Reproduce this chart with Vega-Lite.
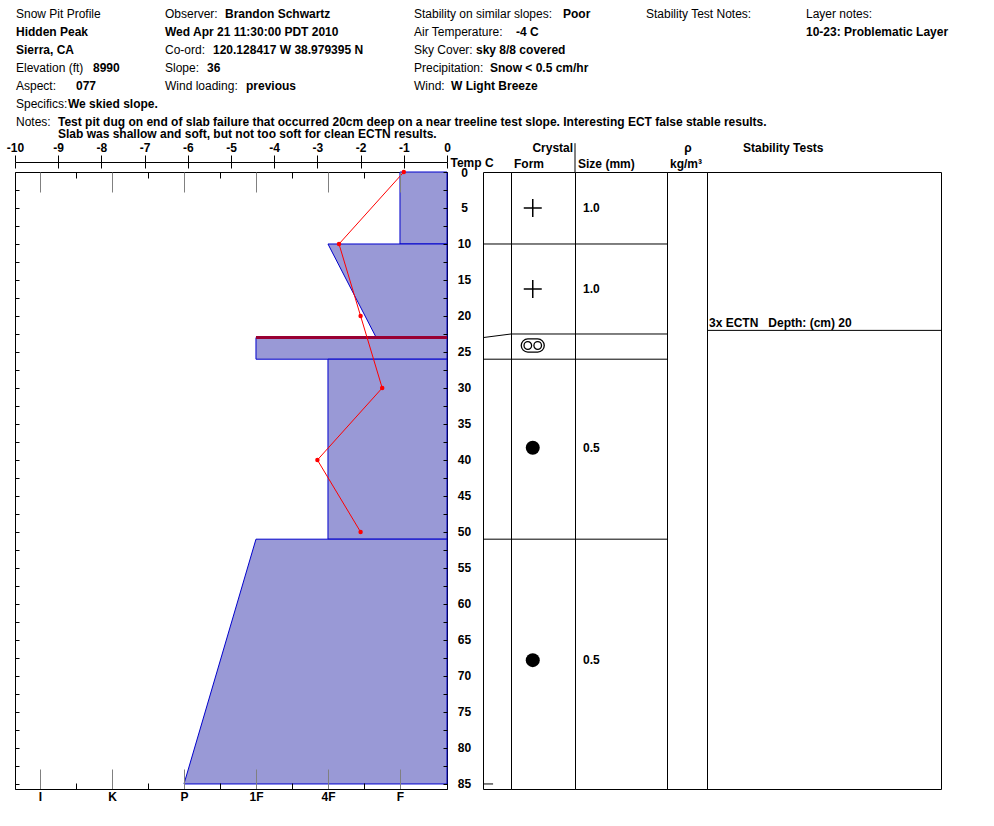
{
  "$schema": "https://vega.github.io/schema/vega-lite/v6.json",
  "padding": 0,
  "background": "white",
  "bounds": "flush",
  "spacing": 0,
  "config": {
    "font": "Liberation Sans",
    "view": {"stroke": "black", "strokeWidth": 1},
    "axis": {"grid": false, "labelFont": "Liberation Sans", "labelFontSize": 12, "labelFontWeight": "bold", "labelColor": "black", "tickColor": "black", "domainColor": "black", "titleFont": "Liberation Sans", "titleColor": "black", "labelFlush": false, "labelOverlap": false},
    "text": {"font": "Liberation Sans", "fontSize": 12, "color": "black"}
  },
  "datasets": {
    "header": [
      {"col": 1, "line": 0, "label": "Snow Pit Profile", "value": ""},
      {"col": 1, "line": 1, "label": "", "value": "Hidden Peak"},
      {"col": 1, "line": 2, "label": "", "value": "Sierra, CA"},
      {"col": 1, "line": 3, "label": "Elevation (ft)", "value": "8990"},
      {"col": 1, "line": 4, "label": "Aspect:", "value": "077"},
      {"col": 1, "line": 5, "label": "Specifics:", "value": "We skied slope."},
      {"col": 1, "line": 6, "label": "Notes:", "value": ["Test pit dug on end of slab failure that occurred 20cm deep on a near treeline test slope. Interesting ECT false stable results.", "\u00a0Slab was shallow and soft, but not too soft for clean ECTN results."]},
      {"col": 2, "line": 0, "label": "Observer:", "value": "Brandon Schwartz"},
      {"col": 2, "line": 1, "label": "", "value": "Wed Apr 21 11:30:00 PDT 2010"},
      {"col": 2, "line": 2, "label": "Co-ord:", "value": "120.128417 W 38.979395 N"},
      {"col": 2, "line": 3, "label": "Slope:", "value": "36"},
      {"col": 2, "line": 4, "label": "Wind loading:", "value": "previous"},
      {"col": 3, "line": 0, "label": "Stability on similar slopes:", "value": "Poor"},
      {"col": 3, "line": 1, "label": "Air Temperature:", "value": "-4 C"},
      {"col": 3, "line": 2, "label": "Sky Cover:", "value": "sky 8/8 covered"},
      {"col": 3, "line": 3, "label": "Precipitation:", "value": "Snow < 0.5 cm/hr"},
      {"col": 3, "line": 4, "label": "Wind:", "value": "W Light Breeze"},
      {"col": 4, "line": 0, "label": "Stability Test Notes:", "value": ""},
      {"col": 5, "line": 0, "label": "Layer notes:", "value": ""},
      {"col": 5, "line": 1, "label": "", "value": "10-23: Problematic Layer"}
    ],
    "hardness": [
      {"layer": 1, "depth": 0, "hardness": 1},
      {"layer": 1, "depth": 10, "hardness": 1},
      {"layer": 2, "depth": 10, "hardness": 2},
      {"layer": 2, "depth": 23, "hardness": 1.33},
      {"layer": 3, "depth": 23, "hardness": 3},
      {"layer": 3, "depth": 26, "hardness": 3},
      {"layer": 4, "depth": 26, "hardness": 2},
      {"layer": 4, "depth": 51, "hardness": 2},
      {"layer": 5, "depth": 51, "hardness": 3},
      {"layer": 5, "depth": 85, "hardness": 4}
    ],
    "temps": [
      {"temp": -1, "depth": 0},
      {"temp": -2.5, "depth": 10},
      {"temp": -2, "depth": 20},
      {"temp": -1.5, "depth": 30},
      {"temp": -3, "depth": 40},
      {"temp": -2, "depth": 50}
    ],
    "failure": [{"depth": 23, "hardness": 3}],
    "boundaries": [
      {"depth": 10, "row": 10},
      {"depth": 23, "row": 22.5},
      {"depth": 26, "row": 26},
      {"depth": 51, "row": 51}
    ],
    "pit": [{"depth": 85}],
    "layers": [
      {"center": 5, "form": "PP", "size": "1.0"},
      {"center": 16.25, "form": "PP", "size": "1.0"},
      {"center": 24.1, "form": "MFcl", "size": ""},
      {"center": 38.3, "form": "RG", "size": "0.5"},
      {"center": 67.8, "form": "RG", "size": "0.5"}
    ],
    "tests": [{"depth": 20, "row": 22, "label": "3x ECTN\u00a0\u00a0 Depth: (cm) 20"}],
    "one": [{}]
  },
  "vconcat": [
    {
      "width": 994,
      "height": 172,
      "view": {"stroke": null},
      "data": {"name": "header"},
      "encoding": {
        "x": {"field": "col", "type": "quantitative", "scale": {"domain": [1, 2, 3, 4, 5], "range": [16, 165, 414, 646, 806], "nice": false, "zero": false}, "axis": null},
        "y": {"field": "line", "type": "quantitative", "scale": {"domain": [0, 7], "range": [18, 144], "nice": false, "zero": false}, "axis": null}
      },
      "layer": [
        {"mark": {"type": "text", "align": "left", "baseline": "alphabetic", "fontSize": 12}, "encoding": {"text": {"field": "label"}}},
        {"mark": {"type": "text", "align": "left", "baseline": "alphabetic", "fontSize": 12, "fontWeight": "bold", "lineHeight": 12,
          "dx": {"expr": "datum.label == 'Elevation (ft)' ? 77 : datum.label == 'Aspect:' ? 60 : datum.label == 'Specifics:' ? 52 : datum.label == 'Notes:' ? 42 : datum.label == 'Observer:' ? 60 : datum.label == 'Co-ord:' ? 48 : datum.label == 'Slope:' ? 42 : datum.label == 'Wind loading:' ? 81 : datum.label == 'Stability on similar slopes:' ? 149 : datum.label == 'Air Temperature:' ? 102 : datum.label == 'Sky Cover:' ? 62 : datum.label == 'Precipitation:' ? 76 : datum.label == 'Wind:' ? 37 : 0"}},
          "encoding": {"text": {"field": "value"}}}
      ]
    },
    {
      "spacing": 0,
      "bounds": "flush",
      "hconcat": [
        {"width": 15, "height": 617, "view": {"stroke": null}, "data": {"name": "one"}, "mark": {"type": "text", "text": ""}},
        {
          "width": 432,
          "height": 617,
          "resolve": {"scale": {"x": "independent", "y": "independent"}, "axis": {"x": "independent", "y": "independent"}},
          "layer": [
            {
              "data": {"name": "hardness"},
              "mark": {"type": "area", "orient": "horizontal", "fill": "#9999d6", "stroke": "#0000cc", "strokeWidth": 1, "opacity": 1},
              "encoding": {
                "y": {"field": "depth", "type": "quantitative", "scale": {"domain": [0, 85.7], "reverse": true, "nice": false, "zero": false},
                  "axis": {"orient": "left", "values": [0,2.5,5,7.5,10,12.5,15,17.5,20,22.5,25,27.5,30,32.5,35,37.5,40,42.5,45,47.5,50,52.5,55,57.5,60,62.5,65,67.5,70,72.5,75,77.5,80,82.5,85], "labels": false, "domain": false, "tickSize": -4, "title": null}},
                "x": {"field": "hardness", "type": "quantitative", "stack": null, "scale": {"domain": [0.347, 6.347], "reverse": true, "nice": false, "zero": false},
                  "axis": {"orient": "bottom", "values": [1,1.5,2,2.5,3,3.5,4,4.5,5,5.5,6],
                    "labelExpr": "datum.value == 1 ? 'F' : datum.value == 2 ? '4F' : datum.value == 3 ? '1F' : datum.value == 4 ? 'P' : datum.value == 5 ? 'K' : datum.value == 6 ? 'I' : ''",
                    "tickSize": {"condition": {"test": "datum.value % 1 == 0", "value": -20}, "value": -6},
                    "tickColor": {"condition": {"test": "datum.value % 1 == 0", "value": "#808080"}, "value": "black"},
                    "labelPadding": 22, "title": null, "zindex": 1}},
                "x2": {"datum": 0.347},
                "detail": {"field": "layer", "type": "nominal"}
              }
            },
            {
              "data": {"name": "failure"},
              "mark": {"type": "rule", "color": "#990033", "strokeWidth": 3},
              "encoding": {
                "y": {"field": "depth", "type": "quantitative", "scale": {"domain": [0, 85.7], "reverse": true, "nice": false, "zero": false}, "axis": null},
                "x": {"field": "hardness", "type": "quantitative", "scale": {"domain": [0.347, 6.347], "reverse": true, "nice": false, "zero": false}, "axis": null},
                "x2": {"datum": 0.347}
              }
            },
            {
              "data": {"name": "hardness"},
              "mark": {"type": "point", "opacity": 0},
              "encoding": {
                "y": {"field": "depth", "type": "quantitative", "scale": {"domain": [0, 85.7], "reverse": true, "nice": false, "zero": false}, "axis": null},
                "x": {"field": "hardness", "type": "quantitative", "scale": {"domain": [0.347, 6.347], "reverse": true, "nice": false, "zero": false},
                  "axis": {"orient": "top", "values": [1,1.5,2,2.5,3,3.5,4,4.5,5,5.5,6], "labels": false, "domain": false,
                    "tickSize": {"condition": {"test": "datum.value % 1 == 0", "value": -20}, "value": -6},
                    "tickColor": {"condition": {"test": "datum.value % 1 == 0", "value": "#808080"}, "value": "black"},
                    "title": null, "zindex": 1}}
              }
            },
            {
              "data": {"name": "temps"},
              "mark": {"type": "point", "opacity": 0},
              "encoding": {
                "y": {"field": "depth", "type": "quantitative", "scale": {"domain": [0, 85.7], "reverse": true, "nice": false, "zero": false}, "axis": null},
                "x": {"field": "temp", "type": "quantitative", "scale": {"domain": [-10, 0], "nice": false, "zero": false},
                  "axis": {"orient": "top", "offset": 10, "values": [-10,-9,-8,-7,-6,-5,-4,-3,-2,-1,0], "labels": false, "domain": false, "tickSize": -6, "title": null}}
              }
            },
            {
              "data": {"name": "temps"},
              "mark": {"type": "line", "color": "#ff0000", "strokeWidth": 1, "point": {"filled": true, "size": 20, "color": "#ff0000"}},
              "encoding": {
                "x": {"field": "temp", "type": "quantitative", "scale": {"domain": [-10, 0], "nice": false, "zero": false},
                  "axis": {"orient": "top", "offset": 10, "values": [-10,-9,-8,-7,-6,-5,-4,-3,-2,-1,0], "tickSize": 7, "labelPadding": 1,
                    "labelExpr": "datum.value < 0 ? '-' + (-datum.value) : '' + datum.value",
                    "title": "Temp C", "titleX": 435, "titleY": 0, "titleAlign": "left", "titleBaseline": "middle", "titleAngle": 0, "titleFontSize": 12, "titleFontWeight": "bold", "titlePadding": 0}},
                "y": {"field": "depth", "type": "quantitative", "scale": {"domain": [0, 85.7], "reverse": true, "nice": false, "zero": false},
                  "axis": {"orient": "right", "values": [0,2.5,5,7.5,10,12.5,15,17.5,20,22.5,25,27.5,30,32.5,35,37.5,40,42.5,45,47.5,50,52.5,55,57.5,60,62.5,65,67.5,70,72.5,75,77.5,80,82.5,85],
                    "tickSize": -4, "domain": false, "format": "d", "labelExpr": "datum.value % 5 == 0 ? datum.label : ''", "labelAlign": "center", "labelBaseline": "middle", "labelPadding": 21, "title": null, "zindex": 1}},
                "order": {"field": "depth", "type": "quantitative"}
              }
            }
          ]
        },
        {"width": 36, "height": 617, "view": {"stroke": null}, "data": {"name": "one"}, "mark": {"type": "text", "text": ""}},
        {
          "width": 28,
          "height": 617,
          "layer": [
            {
              "data": {"name": "boundaries"},
              "mark": {"type": "rule", "color": "black", "strokeWidth": 1},
              "encoding": {
                "x": {"datum": 0, "type": "quantitative", "scale": {"domain": [0, 1], "nice": false, "zero": false}, "axis": null},
                "x2": {"datum": 1},
                "y": {"field": "depth", "type": "quantitative", "scale": {"domain": [0, 85.7], "reverse": true, "nice": false, "zero": false}, "axis": null},
                "y2": {"field": "row"}
              }
            },
            {
              "data": {"name": "pit"},
              "mark": {"type": "rule", "color": "black", "strokeWidth": 1},
              "encoding": {
                "x": {"datum": 0, "type": "quantitative", "axis": null},
                "x2": {"datum": 0.36},
                "y": {"field": "depth", "type": "quantitative", "axis": null}
              }
            }
          ]
        },
        {
          "width": 64,
          "height": 617,
          "layer": [
            {
              "data": {"name": "boundaries"},
              "mark": {"type": "rule", "color": "black", "strokeWidth": 1},
              "encoding": {
                "y": {"field": "row", "type": "quantitative", "scale": {"domain": [0, 85.7], "reverse": true, "nice": false, "zero": false},
                  "axis": {"orient": "left", "values": [0,2.5,5,7.5,10,12.5,15,17.5,20,22.5,25,27.5,30,32.5,35,37.5,40,42.5,45,47.5,50,52.5,55,57.5,60,62.5,65,67.5,70,72.5,75,77.5,80,82.5,85], "labels": false, "domain": false, "tickSize": -6, "title": null}}
              }
            },
            {
              "data": {"name": "layers"},
              "transform": [{"filter": "datum.form == 'PP'"}],
              "mark": {"type": "point", "shape": "M-1,0L1,0M0,-1L0,1", "filled": false, "color": "black", "strokeWidth": 1.5, "size": 324, "opacity": 1},
              "encoding": {
                "x": {"datum": 0.34, "type": "quantitative", "scale": {"domain": [0, 1], "nice": false, "zero": false}, "axis": null},
                "y": {"field": "center", "type": "quantitative", "axis": null}
              }
            },
            {
              "data": {"name": "layers"},
              "transform": [{"filter": "datum.form == 'MFcl'"}],
              "mark": {"type": "point", "shape": "M-0.43,-0.57L0.43,-0.57A0.57,0.57,0,0,1,0.43,0.57L-0.43,0.57A0.57,0.57,0,0,1,-0.43,-0.57Z M-0.1,0A0.33,0.33,0,1,1,-0.76,0A0.33,0.33,0,1,1,-0.1,0Z M0.76,0A0.33,0.33,0,1,1,0.1,0A0.33,0.33,0,1,1,0.76,0Z", "filled": false, "color": "black", "strokeWidth": 1.3, "size": 529, "opacity": 1},
              "encoding": {
                "x": {"datum": 0.34, "type": "quantitative", "axis": null},
                "y": {"field": "center", "type": "quantitative", "axis": null}
              }
            },
            {
              "data": {"name": "layers"},
              "transform": [{"filter": "datum.form == 'RG'"}],
              "mark": {"type": "point", "shape": "circle", "filled": true, "color": "black", "size": 196, "opacity": 1},
              "encoding": {
                "x": {"datum": 0.34, "type": "quantitative", "axis": null},
                "y": {"field": "center", "type": "quantitative", "axis": null}
              }
            },
            {
              "data": {"name": "one"},
              "mark": {"type": "text", "text": "Crystal", "align": "right", "baseline": "alphabetic", "fontWeight": "bold", "fontSize": 12},
              "encoding": {
                "x": {"datum": 0.97, "type": "quantitative", "axis": null},
                "y": {"datum": -2.78, "type": "quantitative", "axis": null}
              }
            },
            {
              "data": {"name": "one"},
              "mark": {"type": "text", "text": "Form", "align": "left", "baseline": "alphabetic", "fontWeight": "bold", "fontSize": 12},
              "encoding": {
                "x": {"datum": 0.047, "type": "quantitative", "axis": null},
                "y": {"datum": -0.49, "type": "quantitative", "axis": null}
              }
            }
          ]
        },
        {
          "width": 92,
          "height": 617,
          "layer": [
            {
              "data": {"name": "boundaries"},
              "mark": {"type": "rule", "color": "black", "strokeWidth": 1},
              "encoding": {
                "y": {"field": "row", "type": "quantitative", "scale": {"domain": [0, 85.7], "reverse": true, "nice": false, "zero": false},
                  "axis": {"orient": "right", "values": [0,2.5,5,7.5,10,12.5,15,17.5,20,22.5,25,27.5,30,32.5,35,37.5,40,42.5,45,47.5,50,52.5,55,57.5,60,62.5,65,67.5,70,72.5,75,77.5,80,82.5,85], "labels": false, "domain": false, "tickSize": -6, "title": null}}
              }
            },
            {
              "data": {"name": "layers"},
              "mark": {"type": "text", "align": "left", "baseline": "middle", "fontWeight": "bold", "fontSize": 12},
              "encoding": {
                "x": {"datum": 0.087, "type": "quantitative", "scale": {"domain": [0, 1], "nice": false, "zero": false}, "axis": null},
                "y": {"field": "center", "type": "quantitative", "axis": null},
                "text": {"field": "size"}
              }
            },
            {
              "data": {"name": "one"},
              "mark": {"type": "text", "text": "Size (mm)", "align": "left", "baseline": "alphabetic", "fontWeight": "bold", "fontSize": 12},
              "encoding": {
                "x": {"datum": 0.033, "type": "quantitative", "axis": null},
                "y": {"datum": -0.49, "type": "quantitative", "axis": null}
              }
            },
            {
              "data": {"name": "one"},
              "mark": {"type": "rule", "color": "black", "strokeWidth": 1},
              "encoding": {
                "x": {"datum": 0, "type": "quantitative", "axis": null},
                "y": {"datum": -4, "type": "quantitative", "axis": null},
                "y2": {"datum": 0}
              }
            }
          ]
        },
        {
          "width": 40,
          "height": 617,
          "layer": [
            {
              "data": {"name": "one"},
              "mark": {"type": "text", "text": "ρ", "align": "center", "baseline": "alphabetic", "fontWeight": "bold", "fontSize": 12},
              "encoding": {
                "x": {"datum": 0.525, "type": "quantitative", "scale": {"domain": [0, 1], "nice": false, "zero": false}, "axis": null},
                "y": {"datum": -2.78, "type": "quantitative", "scale": {"domain": [0, 85.7], "reverse": true, "nice": false, "zero": false}, "axis": null}
              }
            },
            {
              "data": {"name": "one"},
              "mark": {"type": "text", "text": "kg/m³", "align": "left", "baseline": "alphabetic", "fontWeight": "bold", "fontSize": 12},
              "encoding": {
                "x": {"datum": 0.075, "type": "quantitative", "axis": null},
                "y": {"datum": -0.49, "type": "quantitative", "axis": null}
              }
            }
          ]
        },
        {
          "width": 234,
          "height": 617,
          "layer": [
            {
              "data": {"name": "one"},
              "mark": {"type": "text", "text": "Stability Tests", "align": "left", "baseline": "alphabetic", "fontWeight": "bold", "fontSize": 12},
              "encoding": {
                "x": {"datum": 0.154, "type": "quantitative", "scale": {"domain": [0, 1], "nice": false, "zero": false}, "axis": null},
                "y": {"datum": -2.78, "type": "quantitative", "scale": {"domain": [0, 85.7], "reverse": true, "nice": false, "zero": false}, "axis": null}
              }
            },
            {
              "data": {"name": "tests"},
              "mark": {"type": "rule", "color": "black", "strokeWidth": 1},
              "encoding": {
                "y": {"field": "row", "type": "quantitative", "axis": null}
              }
            },
            {
              "data": {"name": "tests"},
              "mark": {"type": "text", "align": "left", "baseline": "alphabetic", "fontWeight": "bold", "fontSize": 12, "dy": -3},
              "encoding": {
                "x": {"datum": 0.0085, "type": "quantitative", "axis": null},
                "y": {"field": "row", "type": "quantitative", "axis": null},
                "text": {"field": "label"}
              }
            }
          ]
        }
      ]
    }
  ]
}
